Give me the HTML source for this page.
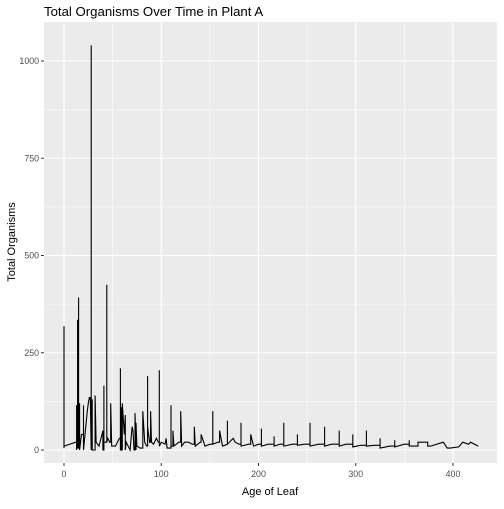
<!DOCTYPE html>
<html><head><meta charset="utf-8"><style>
body{margin:0;background:#fff;font-family:"Liberation Sans",Arial,sans-serif}
</style></head><body>
<svg id="chart" width="504" height="504" xmlns="http://www.w3.org/2000/svg">
<text x="44" y="16" font-size="13.2" fill="#000">Total Organisms Over Time in Plant A</text>
<rect x="44" y="22" width="453" height="441" fill="#ebebeb"/>
<g id="grid"></g>
<g id="axes"></g>
<path id="line" fill="none" stroke="#000" stroke-width="1.1"/>
<text x="270" y="495" font-size="11" text-anchor="middle">Age of Leaf</text>
<text transform="translate(15,242) rotate(-90)" font-size="11" text-anchor="middle">Total Organisms</text>
</svg>
<script>
const xTicks=[0,100,200,300,400];
const yTicks=[0,250,500,750,1000];
const ages=[0,0,0,12,13,13,13,13,14,14,14,15,15,15,16,16,16,18,20,20,20,22,24,25,26,27,28,28,28,29,29,29,32,32,33,36,38,40,40,41,41,41,44,44,44,45,47,48,48,49,53,57,58,58,58,59,59,59,60,60,62,63,63,64,68,70,71,72,73,73,74,74,75,78,81,81,83,85,86,86,86,88,89,89,90,92,95,97,98,98,98,100,104,105,106,110,110,110,112,112,113,118,120,120,121,124,128,132,134,134,135,140,141,141,145,150,153,153,153,158,160,160,163,168,168,168,174,176,180,182,182,182,190,192,192,195,200,203,203,203,210,216,216,216,222,226,226,226,235,240,240,240,247,253,253,253,262,268,268,268,275,283,283,283,290,297,297,297,305,311,311,311,319,325,325,325,335,340,340,340,350,355,355,355,364,364,374,374,377,390,390,394,397,406,410,416,418,426];
const organisms=[5,318,10,20,20,115,0,10,10,335,5,5,392,20,20,120,0,40,40,115,0,50,100,120,135,135,0,1040,20,20,130,0,0,140,20,10,30,50,0,0,165,20,20,425,20,30,20,20,120,10,10,30,30,210,0,0,110,0,0,120,40,90,0,20,0,60,50,0,0,95,0,70,10,5,5,100,20,10,10,190,60,20,20,100,20,15,30,20,20,205,10,20,15,30,5,5,115,10,10,50,10,20,20,100,10,20,20,15,15,60,10,20,20,40,10,15,15,100,15,20,20,50,10,15,75,15,30,20,15,15,70,10,15,15,40,10,15,15,55,10,15,15,35,10,15,15,70,10,15,15,40,12,15,15,70,10,15,15,60,10,15,15,50,10,15,15,40,8,12,12,50,10,12,12,30,5,10,10,25,8,15,15,25,10,10,20,20,10,10,20,20,5,5,8,20,15,20,10,20];
const X=v=>64+v*0.9725, Y=v=>450-v*0.389;
const ns="http://www.w3.org/2000/svg";
const grid=document.getElementById('grid'), axes=document.getElementById('axes');
function ln(p,x1,y1,x2,y2,w,c){const l=document.createElementNS(ns,'line');l.setAttribute('x1',x1);l.setAttribute('y1',y1);l.setAttribute('x2',x2);l.setAttribute('y2',y2);l.setAttribute('stroke',c);l.setAttribute('stroke-width',w);p.appendChild(l);return l;}
xTicks.forEach(t=>{
 const m=ln(grid,X(t+50),22,X(t+50),463,0.5,'#fff');
 
 
 const g=ln(grid,X(t),22,X(t),463,1.1,'#fff');
 
 
 const k=ln(axes,X(t),463,X(t),466,1,'#333');
 
 
 const tx=document.createElementNS(ns,'text');tx.setAttribute('x',X(t));tx.setAttribute('y',477);tx.setAttribute('font-size','8.8');tx.setAttribute('fill','#4d4d4d');tx.setAttribute('text-anchor','middle');tx.textContent=t;
 
 
 axes.appendChild(tx);
});
yTicks.forEach(t=>{
 if(t<1000){const m=ln(grid,44,Y(t+125),497,Y(t+125),0.5,'#fff');
 
 }
 const g=ln(grid,44,Y(t),497,Y(t),1.1,'#fff');
 
 
 const k=ln(axes,41,Y(t),44,Y(t),1,'#333');
 
 
 const tx=document.createElementNS(ns,'text');tx.setAttribute('x',39);tx.setAttribute('y',Y(t)+3);tx.setAttribute('font-size','8.8');tx.setAttribute('fill','#4d4d4d');tx.setAttribute('text-anchor','end');tx.textContent=t;
 
 
 axes.appendChild(tx);
});
document.getElementById('line').setAttribute('d',ages.map((a,i)=>(i?'L':'M')+X(a).toFixed(1)+' '+Y(organisms[i]).toFixed(1)).join(' '));
</script>
</body></html>
